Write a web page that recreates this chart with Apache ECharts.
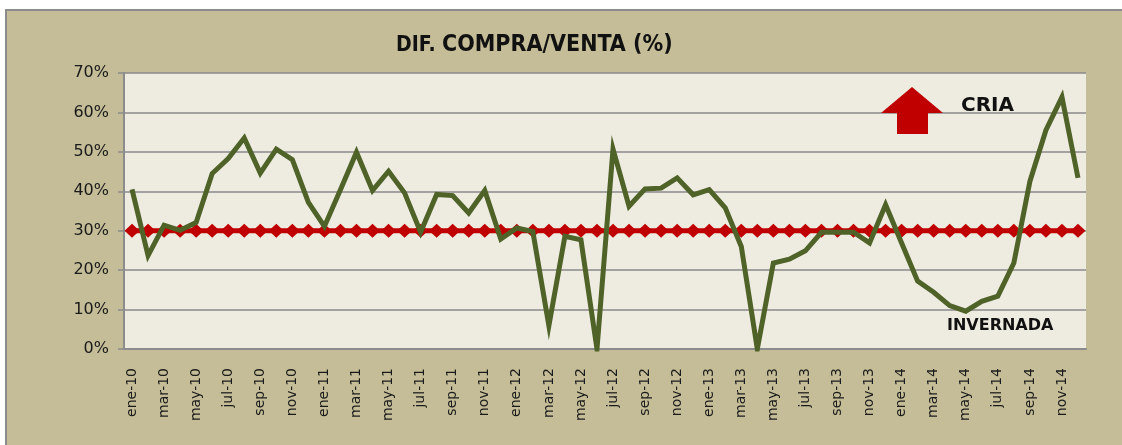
<!DOCTYPE html>
<html lang="es">
<head>
  <meta charset="UTF-8">
  <title>DIF. COMPRA/VENTA (%)</title>
  <script src="https://cdn.jsdelivr.net/npm/echarts@6/dist/echarts.min.js"></script>
  <style>
    html, body { margin: 0; padding: 0; background: #ffffff; }
    #chart { width: 1122px; height: 445px; }
  </style>
</head>
<body>
<div id="chart"></div>
<script>
  // meses y años del eje x
  var meses = ['ene', 'feb', 'mar', 'abr', 'may', 'jun', 'jul', 'ago', 'sep', 'oct', 'nov', 'dic'];
  var anios = ['10', '11', '12', '13', '14'];

  // diferencia compra/venta (%)
  var difCompraVenta = [
    40.5, 23.7, 31.4, 30.1, 32.1, 44.5, 48.3, 53.5, 44.6, 50.7, 48.0, 37.2,
    31.1, 40.4, 49.9, 40.2, 45.1, 39.6, 29.6, 39.2, 38.9, 34.5, 40.2, 27.9,
    30.7, 29.8, 5.9, 28.6, 27.7, 0.0, 50.7, 36.2, 40.6, 40.8, 43.4, 39.1,
    40.4, 35.8, 26.0, 0.0, 21.8, 22.8, 24.9, 29.6, 29.6, 29.6, 26.9, 36.6,
    26.9, 17.2, 14.4, 11.0, 9.6, 12.1, 13.4, 21.8, 42.5, 55.5, 63.9, 43.4
  ];

  // linea de referencia 30%
  var referencia = [
    30, 30, 30, 30, 30, 30, 30, 30, 30, 30, 30, 30,
    30, 30, 30, 30, 30, 30, 30, 30, 30, 30, 30, 30,
    30, 30, 30, 30, 30, 30, 30, 30, 30, 30, 30, 30,
    30, 30, 30, 30, 30, 30, 30, 30, 30, 30, 30, 30,
    30, 30, 30, 30, 30, 30, 30, 30, 30, 30, 30, 30
  ];

  var categorias = [];
  anios.forEach(function (a) {
    meses.forEach(function (m) { categorias.push(m + '-' + a); });
  });

  var chart = echarts.init(document.getElementById('chart'));

  var option = {
    animation: false,
    backgroundColor: '#ffffff',
    textStyle: { fontFamily: 'DejaVu Sans' },
    title: {
      text: '{a|DIF.} {b|COMPRA/VENTA (%)}',
      left: 391,
      top: 29,
      textStyle: {
        rich: {
          a: { fontFamily: 'DejaVu Sans Condensed', fontWeight: 'bold', fontSize: 21, color: '#111' },
          b: { fontFamily: 'DejaVu Sans Condensed', fontWeight: 'bold', fontSize: 23, color: '#111' }
        }
      }
    },
    graphic: [
      {
        type: 'rect', z: -10, silent: true,
        shape: { x: 6, y: 10, width: 1130, height: 450 },
        style: { fill: '#C4BD97', stroke: '#8C8C8C', lineWidth: 2 }
      },
      {
        type: 'polygon', z: 10, silent: true,
        shape: { points: [[912, 87], [943, 113], [928, 113], [928, 134], [897, 134], [897, 113], [881, 113]] },
        style: { fill: '#C00000' }
      },
      {
        type: 'text', z: 10, left: 961, top: 96, silent: true,
        style: { text: 'CRIA', fill: '#111', font: 'bold 20px "DejaVu Sans"' }
      },
      {
        type: 'text', z: 10, left: 947, top: 318, silent: true,
        style: { text: 'INVERNADA', fill: '#111', font: 'bold 16px "DejaVu Sans"' }
      }
    ],
    grid: {
      left: 124, right: 36, top: 73, bottom: 96,
      show: true, backgroundColor: '#EEECE1', borderWidth: 0
    },
    xAxis: {
      type: 'category',
      data: categorias,
      boundaryGap: true,
      axisLine: { lineStyle: { color: '#8C8C8C', width: 2 } },
      axisTick: { interval: 1, length: 6, lineStyle: { color: '#8C8C8C', width: 1.5 } },
      axisLabel: { interval: 1, rotate: 90, margin: 19, fontSize: 14, color: '#1a1a1a' },
      splitLine: { show: false }
    },
    yAxis: {
      type: 'value',
      min: 0, max: 70, interval: 10,
      axisLine: { show: true, lineStyle: { color: '#8C8C8C', width: 2 } },
      axisTick: { show: true, length: 6, lineStyle: { color: '#8C8C8C', width: 1.5 } },
      axisLabel: { formatter: '{value}%', fontSize: 16, color: '#1a1a1a', margin: 15 },
      splitLine: { lineStyle: { color: '#8A8A8A', width: 1.5 } }
    },
    series: [
      {
        name: 'Referencia',
        type: 'line',
        data: referencia,
        z: 3,
        symbol: 'diamond',
        symbolSize: [15, 14],
        showAllSymbol: true,
        itemStyle: { color: '#C00000' },
        lineStyle: { color: '#C00000', width: 5 }
      },
      {
        name: 'Dif. compra/venta',
        type: 'line',
        data: difCompraVenta,
        z: 4,
        symbol: 'none',
        lineStyle: { color: '#4F6228', width: 5, join: 'miter' }
      }
    ]
  };

  chart.setOption(option);
</script>
</body>
</html>
